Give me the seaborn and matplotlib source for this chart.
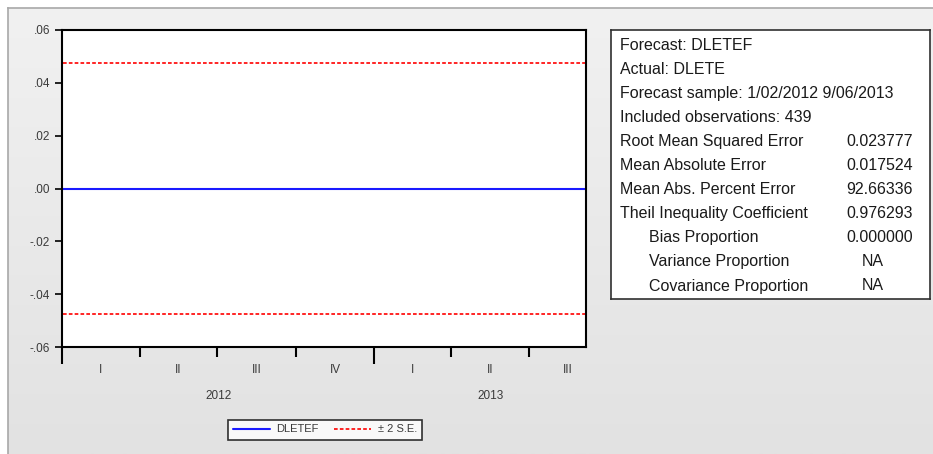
#!/usr/bin/env python3
# -*- coding: utf-8 -*-
'''
Forecast chart for DLETEF with a +/- 2 S.E. band and the forecast statistics box.
'''
import numpy as np
import pandas as pd
import seaborn as sns
import matplotlib.pyplot as plt
import matplotlib.transforms as mtransforms
from matplotlib.lines import Line2D

sns.set_theme(style="white")
plt.rcParams['font.family'] = ['Liberation Sans', 'DejaVu Sans']

# data
sample_start = "2012-01-02"
sample_end = "2013-09-06"
forecast_level = 0.0          # DLETEF is flat at zero
band_halfwidth = 0.0476       # 2 x S.E.

quarter_starts = ["2012-01-01", "2012-04-01", "2012-07-01", "2012-10-01",
                  "2013-01-01", "2013-04-01", "2013-07-01"]
quarter_names = ["I", "II", "III", "IV", "I", "II", "III"]
year_starts = ["2012-01-01", "2013-01-01"]
year_names = ["2012", "2013"]
yticks = [0.06, 0.04, 0.02, 0.0, -0.02, -0.04, -0.06]
ytick_labels = [".06", ".04", ".02", ".00", "-.02", "-.04", "-.06"]

stat_labels = ["Forecast: DLETEF", "Actual: DLETE",
               "Forecast sample: 1/02/2012 9/06/2013",
               "Included observations: 439",
               "Root Mean Squared Error", "Mean Absolute Error",
               "Mean Abs. Percent Error", "Theil Inequality Coefficient",
               "Bias Proportion", "Variance Proportion",
               "Covariance Proportion"]
stat_indent = [False] * 8 + [True] * 3
stat_values = ["", "", "", "", "0.023777", "0.017524", "92.66336",
               "0.976293", "0.000000", "NA", "NA"]

dates = pd.bdate_range(sample_start, sample_end)
df = pd.DataFrame({
    "date": dates,
    "DLETEF": forecast_level,
    "upper": forecast_level + band_halfwidth,
    "lower": forecast_level - band_halfwidth,
})

W, H = 933, 454
fig = plt.figure(figsize=(W / 100, H / 100), dpi=100)
fig.patch.set_facecolor("white")

# grey panel behind everything
bg = fig.add_axes([8 / W, 0, 1 - 8 / W, 1 - 8 / H], zorder=-5)
grad = np.linspace(0, 1, 256).reshape(-1, 1)
bg.imshow(grad, aspect="auto", cmap=sns.blend_palette(["#F1F1F1", "#E2E2E2"], as_cmap=True),
          extent=[0, 1, 0, 1])
bg.set_xticks([])
bg.set_yticks([])
for s in bg.spines.values():
    s.set_color("#A8A8A8")
    s.set_linewidth(1.2)
bg.spines["right"].set_visible(False)
bg.spines["bottom"].set_visible(False)

ax = fig.add_axes([62 / W, 1 - 347 / H, (586 - 62) / W, (347 - 30) / H])
ax.set_facecolor("white")

dash = (0, (2.2, 1.3))
sns.lineplot(data=df, x="date", y="upper", ax=ax, color="#FF0000", lw=1.2, linestyle=dash)
sns.lineplot(data=df, x="date", y="lower", ax=ax, color="#FF0000", lw=1.2, linestyle=dash)
sns.lineplot(data=df, x="date", y="DLETEF", ax=ax, color="#1A1AFF", lw=1.5)

ax.set_xlim(dates[0], dates[-1])
ax.set_ylim(-0.06, 0.06)
ax.set_xlabel("")
ax.set_ylabel("")

ax.set_yticks(yticks)
ax.set_yticklabels(ytick_labels)
ax.tick_params(axis="y", direction="out", length=5, width=1.2, color="black",
               labelsize=8.5, labelcolor="#3A3A3A", pad=3.5, left=True)

qs = pd.to_datetime(quarter_starts)
ys = pd.to_datetime(year_starts)
ax.set_xticks(ys)
ax.set_xticklabels([])
ax.set_xticks([q for q in qs if q not in ys], minor=True)
ax.tick_params(axis="x", which="major", direction="out", length=12, width=1.5,
               color="black", bottom=True)
ax.tick_params(axis="x", which="minor", direction="out", length=7.5, width=1.5,
               color="black", bottom=True)

for s in ax.spines.values():
    s.set_color("black")
    s.set_linewidth(1.5)

trans = mtransforms.blended_transform_factory(ax.transData, ax.transAxes)
q_ends = list(qs[1:]) + [pd.Timestamp("2013-10-01")]
for start, end, name in zip(qs, q_ends, quarter_names):
    mid = start + (end - start) / 2
    ax.text(mid, -23 / 317, name, transform=trans, ha="center", va="center",
            fontsize=8.5, color="#3A3A3A")
y_ends = [pd.Timestamp("2013-01-01"), pd.Timestamp("2013-10-01")]
for start, end, name in zip(ys, y_ends, year_names):
    mid = start + (end - start) / 2
    ax.text(mid, -49 / 317, name, transform=trans, ha="center", va="center",
            fontsize=8.5, color="#3A3A3A")

handles = [Line2D([], [], color="#1A1AFF", lw=1.5),
           Line2D([], [], color="#FF0000", lw=1.2, linestyle=dash)]
leg = fig.legend(handles, ["DLETEF", "± 2 S.E."], loc="center",
                 bbox_to_anchor=(325 / W, 1 - 429.5 / H), ncol=2, fontsize=8,
                 frameon=True, fancybox=False, edgecolor="black", handlelength=3.3,
                 handletextpad=0.6, columnspacing=1.4, borderpad=0.45)
leg.get_frame().set_linewidth(1.2)
leg.get_frame().set_facecolor("white")
for t in leg.get_texts():
    t.set_color("#3A3A3A")

# statistics box
box = fig.add_axes([611 / W, 1 - 299 / H, (930 - 611) / W, (299 - 30) / H])
box.set_facecolor("white")
box.set_xticks([])
box.set_yticks([])
box.set_xlim(611, 930)
box.set_ylim(299, 30)
for s in box.spines.values():
    s.set_color("#303030")
    s.set_linewidth(1.2)

for i, (lab, ind, val) in enumerate(zip(stat_labels, stat_indent, stat_values)):
    yy = 45 + i * 24.1
    box.text(649 if ind else 620, yy, lab, ha="left", va="center", fontsize=11.5,
             color="#1A1A1A")
    if val == "NA":
        box.text(873, yy, val, ha="center", va="center", fontsize=11.5, color="#1A1A1A")
    elif val:
        box.text(913, yy, val, ha="right", va="center", fontsize=11.5, color="#1A1A1A")

fig.savefig("out.png", dpi=100, facecolor=fig.get_facecolor())
